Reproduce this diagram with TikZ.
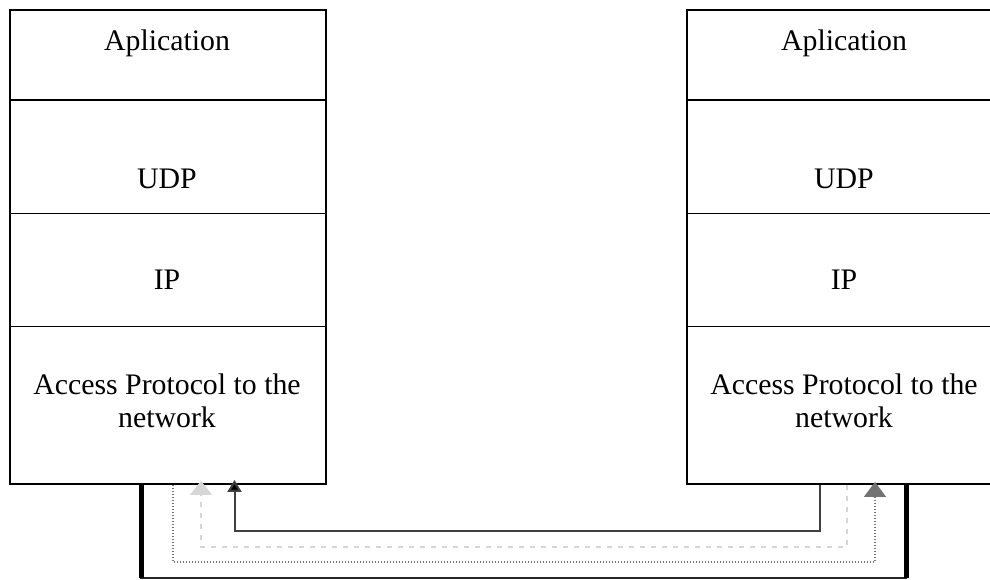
\documentclass[tikz,border=0pt]{standalone}
\usepackage{fontspec}
\setmainfont{Liberation Serif}
\usetikzlibrary{arrows.meta}

\tikzset{
  layer/.style={draw=black, line width=1.9pt, rectangle, inner sep=0pt,
    minimum width=316pt, anchor=north west},
  lbl/.style={anchor=base, inner sep=0pt, align=center,
    font=\fontsize{29.8}{33}\selectfont},
  link/.style={line width=5pt, black},
  linkbase/.style={line width=2.4pt, black!85},
  dotline/.style={line width=1.6pt, black!55, dash pattern=on 1.2pt off 1.8pt},
  dashline/.style={line width=1.5pt, black!16, dash pattern=on 5pt off 6pt},
  solidline/.style={line width=2pt, black!75},
}

\begin{document}
\begin{tikzpicture}[x=1pt, y=-1pt]
  \useasboundingbox (0,0) rectangle (990,579);
  \clip (0,0) rectangle (990,579);

  % left protocol stack
  \node[layer, minimum height=90pt]    (LA) at (9,9) {};
  \node[layer, minimum height=113.5pt] (LU) at (9,99) {};
  \node[layer, minimum height=113pt]   (LI) at (9,212.5) {};
  \node[layer, minimum height=157.5pt] (LN) at (9,325.5) {};

  % right protocol stack (runs past the right edge)
  \node[layer, minimum height=90pt]    (RA) at (686,9) {};
  \node[layer, minimum height=113.5pt] (RU) at (686,99) {};
  \node[layer, minimum height=113pt]   (RI) at (686,212.5) {};
  \node[layer, minimum height=157.5pt] (RN) at (686,325.5) {};

  % layer names (base of a two-line label is its last line)
  \node[lbl] (tLA) at (167,50)  {Aplication};
  \node[lbl] (tLU) at (167,188) {UDP};
  \node[lbl] (tLI) at (167,289) {IP};
  \node[lbl] (tLN) at (167,427) {Access Protocol to the\\network};

  \node[lbl] (tRA) at (844,50)  {Aplication};
  \node[lbl] (tRU) at (844,188) {UDP};
  \node[lbl] (tRI) at (844,289) {IP};
  \node[lbl] (tRN) at (844,427) {Access Protocol to the\\network};

  % attachment points under the bottom layers
  \coordinate (wL) at (LN.south west -| 141.5,0);
  \coordinate (wR) at (RN.south west -| 906,0);
  \coordinate (dL) at (LN.south west -| 173,0);
  \coordinate (dR) at (RN.south west -| 875,0);
  \coordinate (eL) at (LN.south west -| 201,0);
  \coordinate (eR) at (RN.south west -| 847,0);
  \coordinate (sL) at (LN.south west -| 234.5,0);
  \coordinate (sR) at (RN.south west -| 820,0);

  % physical medium
  \draw[linkbase] (wL) -- ++(0,93) -| (wR);
  \draw[link] (wL) -- ++(0,93);
  \draw[link] (wR) -- ++(0,93);

  % dotted path, left to right
  \draw[dotline, -{Triangle[width=22pt,length=15pt]}, shorten >=-1pt]
    (dL) -- ++(0,77) -| ([yshift=2pt]dR);

  % dashed path, right to left
  \draw[dashline, -{Triangle[width=22pt,length=14pt]}]
    (eR) -- ++(0,62) -| ([yshift=4pt]eL);

  % solid path, right to left
  \draw[solidline, -{Triangle[width=14pt,length=12pt,fill=black]}]
    (sR) -- ++(0,46) -| ([yshift=5pt]sL);
\end{tikzpicture}
\end{document}
